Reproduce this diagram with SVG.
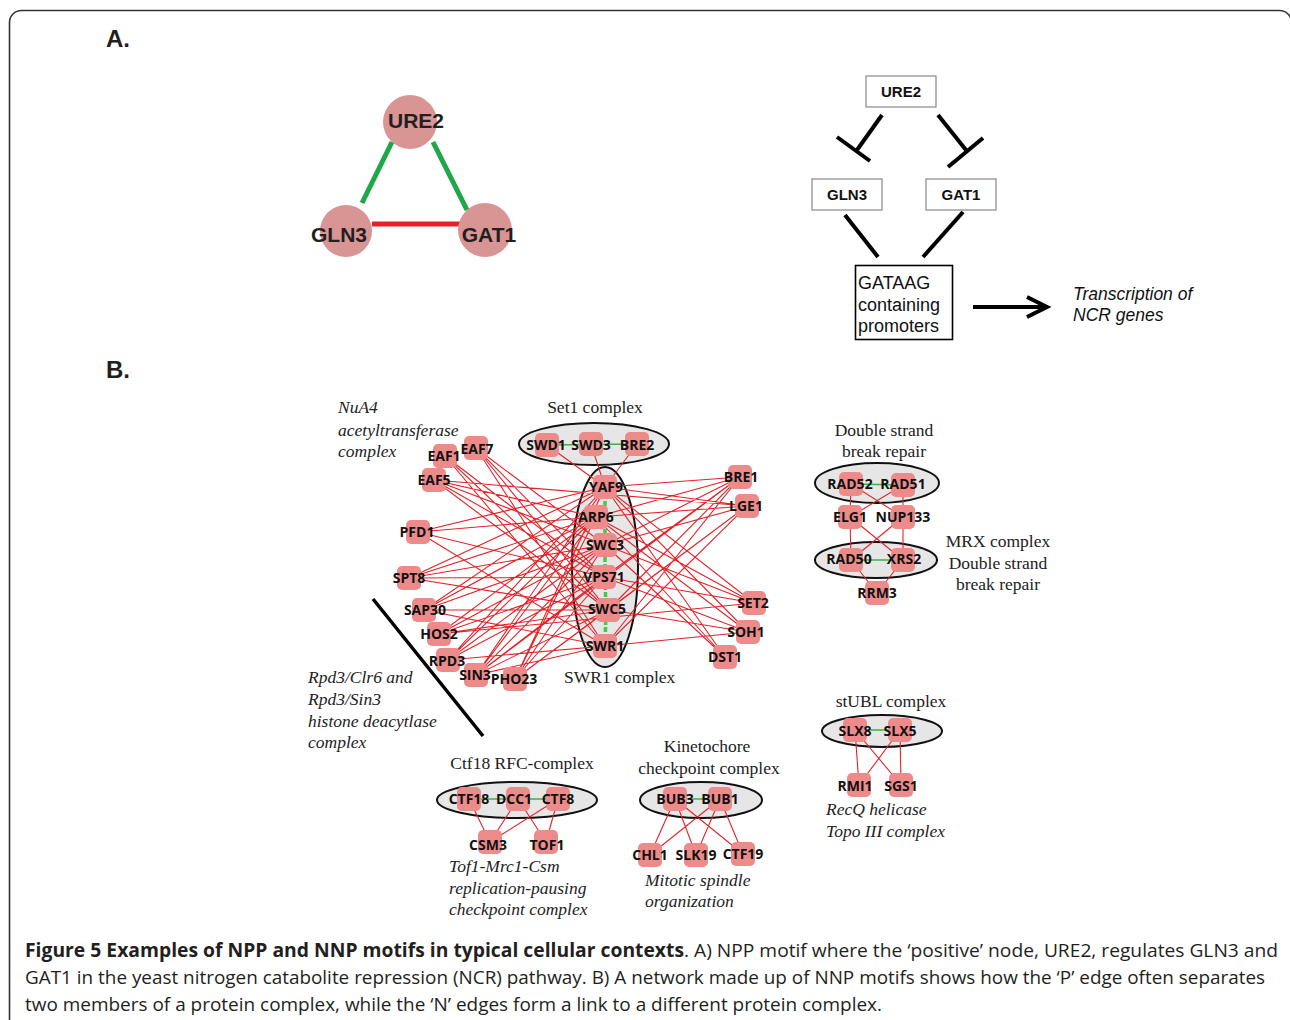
<svg xmlns="http://www.w3.org/2000/svg" width="1290" height="1020" viewBox="0 0 1290 1020">
<style>
.frame{fill:none;stroke:#333;stroke-width:1.6}
.hd{font-family:"Liberation Sans",Arial,sans-serif;font-weight:bold;font-size:24px;fill:#231f20}
.cn{fill:#d99494}
.cl{font-family:"Liberation Sans",Arial,sans-serif;font-weight:bold;font-size:21px;fill:#231f20;text-anchor:middle}
.bx{fill:#fff;stroke:#888;stroke-width:1.2}
.bxt{font-family:"Liberation Sans",Arial,sans-serif;font-weight:bold;font-size:15px;fill:#111;text-anchor:middle}
.pt{font-family:"Liberation Sans",Arial,sans-serif;font-size:18px;fill:#111}
.it{font-family:"Liberation Sans",Arial,sans-serif;font-style:italic;font-size:17.5px;fill:#111}
.blk{stroke:#000;stroke-width:4;fill:none}
.nd{fill:#ed8b8b}
.nl{font-family:"Open Sans","DejaVu Sans",sans-serif;font-weight:bold;font-size:14px;fill:#111;text-anchor:middle}
.cx{fill:#e6e6e6;stroke:#111;stroke-width:2}
.ti{font-family:"Liberation Serif","Times New Roman",serif;font-size:17.5px;fill:#222}
.tii{font-family:"Liberation Serif","Times New Roman",serif;font-style:italic;font-size:17.5px;fill:#222}
.re{stroke:#e3232a;stroke-width:1.1;fill:none}
.ge{stroke:#3cb43c;stroke-width:1.4;fill:none}
.gd{stroke:#45c845;stroke-width:3.5;stroke-dasharray:5 2;fill:none}
.cap{font-family:"Open Sans","Liberation Sans",sans-serif;font-size:19px;fill:#231f20}
</style>
<defs>
<rect id="n" x="-12" y="-12" width="24" height="24" rx="5" class="nd"/>
</defs>
<rect class="frame" x="9.5" y="10.5" width="1282" height="1040" rx="12"/>
<text class="hd" x="106" y="47">A.</text>
<text class="hd" x="106" y="378">B.</text>

<!-- Part A triangle -->
<g id="a-connectors">
<line x1="392" y1="142" x2="362" y2="203" stroke="#1fa84a" stroke-width="5"/>
<line x1="433" y1="142" x2="467" y2="210" stroke="#1fa84a" stroke-width="5"/>
<line x1="372" y1="224" x2="460" y2="224" stroke="#e8202a" stroke-width="5"/>
</g>
<g id="a-URE2"><circle class="cn" cx="410" cy="122" r="27"/><text class="cl" x="416" y="128">URE2</text></g>
<g id="a-GLN3"><circle class="cn" cx="346" cy="231" r="26"/><text class="cl" x="339" y="242">GLN3</text></g>
<g id="a-GAT1"><circle class="cn" cx="485" cy="230" r="27"/><text class="cl" x="489" y="242">GAT1</text></g>

<!-- Part A pathway -->
<g id="p-connectors">
<line class="blk" x1="882" y1="115" x2="857" y2="150"/>
<line class="blk" x1="837" y1="137" x2="870" y2="161"/>
<line class="blk" x1="938" y1="115" x2="966" y2="150"/>
<line class="blk" x1="948" y1="167" x2="983" y2="138"/>
<line class="blk" x1="845" y1="215" x2="878" y2="257"/>
<line class="blk" x1="963" y1="212" x2="923" y2="257"/>
<line class="blk" x1="973" y1="307" x2="1045" y2="307"/>
<polyline class="blk" points="1027,297 1047,307 1027,317"/>
</g>
<g id="p-URE2"><rect class="bx" x="866" y="76" width="70" height="31"/><text class="bxt" x="901" y="97">URE2</text></g>
<g id="p-GLN3"><rect class="bx" x="812" y="179" width="70" height="31"/><text class="bxt" x="847" y="200">GLN3</text></g>
<g id="p-GAT1"><rect class="bx" x="926" y="179" width="70" height="31"/><text class="bxt" x="961" y="200">GAT1</text></g>
<g id="p-promoters"><rect x="855.5" y="265.5" width="97" height="74" fill="#fff" stroke="#000" stroke-width="1.6"/>
<text class="pt" x="858" y="289">GATAAG</text><text class="pt" x="858" y="311">containing</text><text class="pt" x="858" y="332">promoters</text></g>
<g id="p-transcription"><text class="it" x="1073" y="300">Transcription of</text><text class="it" x="1073" y="321">NCR genes</text></g>

<!-- Part B complexes (backgrounds) -->
<ellipse class="cx" cx="594" cy="444" rx="75" ry="21"/>
<ellipse class="cx" cx="605" cy="567" rx="33" ry="100"/>
<ellipse class="cx" cx="877" cy="483" rx="62" ry="20"/>
<ellipse class="cx" cx="876" cy="560" rx="61" ry="18"/>
<ellipse class="cx" cx="517" cy="800" rx="80" ry="18"/>
<ellipse class="cx" cx="701" cy="800" rx="61" ry="18"/>
<ellipse class="cx" cx="882" cy="731" rx="60" ry="16"/>

<g id="connectors">
<path class="re" d="
M445,456L604,577M445,456L608,610M445,456L605,646
M476,448L605,545M476,448L604,577M476,448L608,610M476,448L605,646
M434,480L596,517M434,480L605,545M434,480L604,577M434,480L608,610M434,480L747,506
M418,532L605,487M418,532L596,517M418,532L604,577M418,532L605,646
M409,578L605,487M409,578L596,517M409,578L605,545M409,578L604,577M409,578L608,610M409,578L748,632
M424,610L605,487M424,610L596,517M424,610L605,545M424,610L608,610M424,610L605,646
M439,634L596,517M439,634L605,545M439,634L604,577M439,634L608,610M439,634L754,603
M448,660L605,487M448,660L596,517M448,660L605,545M448,660L604,577M448,660L605,646
M476,675L605,487M476,675L596,517M476,675L605,545M476,675L604,577M476,675L608,610M476,675L605,646M476,675L740,477
M515,679L605,487M515,679L596,517M515,679L605,545M515,679L604,577M515,679L608,610M515,679L747,506
M740,477L605,487M740,477L596,517M740,477L605,545M740,477L604,577M740,477L608,610M740,477L605,646
M747,506L605,487M747,506L596,517M747,506L605,545M747,506L608,610M747,506L605,646
M754,603L605,487M754,603L596,517M754,603L605,545M754,603L604,577
M748,632L605,487M748,632L596,517M748,632L604,577M748,632L605,646
M725,657L605,487M725,657L596,517M725,657L605,545
M547,445L605,487M591,444L605,487M637,444L605,487
M851,484L850,517M903,485L903,517M851,484L903,517M903,485L850,517
M850,517L851,560M903,517L903,560M850,517L903,560M903,517L851,560
M851,560L877,593M903,560L877,593
M469,799L490,842M518,799L490,842M558,799L490,842M518,799L546,842M558,799L546,842
M675,799L650,855M675,799L696,855M675,799L743,854M720,799L650,855M720,799L696,855M720,799L743,854
M855,730L859,785M855,730L901,785M900,730L859,785M900,730L901,785"/>
<path class="ge" d="M547,445L637,444M851,484L903,485M851,560L903,560M469,799L558,799M675,799L720,799M855,730L900,730"/>
<path class="gd" d="M605,487L605,517L605,545L605,577L606,610L605,646"/>
</g>

<g id="nodes">
<g id="EAF1"><use href="#n" x="445" y="456"/><text class="nl" x="444" y="461">EAF1</text></g>
<g id="EAF7"><use href="#n" x="476" y="448"/><text class="nl" x="477" y="454">EAF7</text></g>
<g id="EAF5"><use href="#n" x="434" y="480"/><text class="nl" x="434" y="485">EAF5</text></g>
<g id="PFD1"><use href="#n" x="418" y="532"/><text class="nl" x="417" y="537">PFD1</text></g>
<g id="SPT8"><use href="#n" x="409" y="578"/><text class="nl" x="409" y="583">SPT8</text></g>
<g id="SAP30"><use href="#n" x="424" y="610"/><text class="nl" x="425" y="615">SAP30</text></g>
<g id="HOS2"><use href="#n" x="439" y="634"/><text class="nl" x="439" y="639">HOS2</text></g>
<g id="RPD3"><use href="#n" x="448" y="660"/><text class="nl" x="447" y="666">RPD3</text></g>
<g id="SIN3"><use href="#n" x="476" y="675"/><text class="nl" x="475" y="680">SIN3</text></g>
<g id="PHO23"><use href="#n" x="515" y="679"/><text class="nl" x="514" y="684">PHO23</text></g>
<g id="SWD1"><use href="#n" x="547" y="445"/><text class="nl" x="546" y="450">SWD1</text></g>
<g id="SWD3"><use href="#n" x="591" y="444"/><text class="nl" x="591" y="450">SWD3</text></g>
<g id="BRE2"><use href="#n" x="637" y="444"/><text class="nl" x="637" y="450">BRE2</text></g>
<g id="YAF9"><use href="#n" x="605" y="487"/><text class="nl" x="606" y="492">YAF9</text></g>
<g id="ARP6"><use href="#n" x="596" y="517"/><text class="nl" x="596" y="522">ARP6</text></g>
<g id="SWC3"><use href="#n" x="605" y="545"/><text class="nl" x="605" y="550">SWC3</text></g>
<g id="VPS71"><use href="#n" x="604" y="577"/><text class="nl" x="604" y="582">VPS71</text></g>
<g id="SWC5"><use href="#n" x="608" y="610"/><text class="nl" x="607" y="614">SWC5</text></g>
<g id="SWR1"><use href="#n" x="605" y="646"/><text class="nl" x="605" y="651">SWR1</text></g>
<g id="BRE1"><use href="#n" x="740" y="477"/><text class="nl" x="741" y="482">BRE1</text></g>
<g id="LGE1"><use href="#n" x="747" y="506"/><text class="nl" x="746" y="511">LGE1</text></g>
<g id="SET2"><use href="#n" x="754" y="603"/><text class="nl" x="753" y="608">SET2</text></g>
<g id="SOH1"><use href="#n" x="748" y="632"/><text class="nl" x="746" y="637">SOH1</text></g>
<g id="DST1"><use href="#n" x="725" y="657"/><text class="nl" x="725" y="662">DST1</text></g>
<g id="RAD52"><use href="#n" x="851" y="484"/><text class="nl" x="850" y="489">RAD52</text></g>
<g id="RAD51"><use href="#n" x="903" y="485"/><text class="nl" x="903" y="489">RAD51</text></g>
<g id="ELG1"><use href="#n" x="850" y="517"/><text class="nl" x="850" y="522">ELG1</text></g>
<g id="NUP133"><use href="#n" x="903" y="517"/><text class="nl" x="903" y="522">NUP133</text></g>
<g id="RAD50"><use href="#n" x="851" y="560"/><text class="nl" x="849" y="564">RAD50</text></g>
<g id="XRS2"><use href="#n" x="903" y="560"/><text class="nl" x="904" y="564">XRS2</text></g>
<g id="RRM3"><use href="#n" x="877" y="593"/><text class="nl" x="877" y="598">RRM3</text></g>
<g id="CTF18"><use href="#n" x="469" y="799"/><text class="nl" x="469" y="804">CTF18</text></g>
<g id="DCC1"><use href="#n" x="518" y="799"/><text class="nl" x="514" y="804">DCC1</text></g>
<g id="CTF8"><use href="#n" x="558" y="799"/><text class="nl" x="558" y="804">CTF8</text></g>
<g id="CSM3"><use href="#n" x="490" y="842"/><text class="nl" x="488" y="850">CSM3</text></g>
<g id="TOF1"><use href="#n" x="546" y="842"/><text class="nl" x="547" y="850">TOF1</text></g>
<g id="BUB3"><use href="#n" x="675" y="799"/><text class="nl" x="675" y="804">BUB3</text></g>
<g id="BUB1"><use href="#n" x="720" y="799"/><text class="nl" x="720" y="804">BUB1</text></g>
<g id="CHL1"><use href="#n" x="650" y="855"/><text class="nl" x="650" y="860">CHL1</text></g>
<g id="SLK19"><use href="#n" x="696" y="855"/><text class="nl" x="696" y="860">SLK19</text></g>
<g id="CTF19"><use href="#n" x="743" y="854"/><text class="nl" x="743" y="859">CTF19</text></g>
<g id="SLX8"><use href="#n" x="855" y="730"/><text class="nl" x="855" y="736">SLX8</text></g>
<g id="SLX5"><use href="#n" x="900" y="730"/><text class="nl" x="900" y="736">SLX5</text></g>
<g id="RMI1"><use href="#n" x="859" y="785"/><text class="nl" x="855" y="791">RMI1</text></g>
<g id="SGS1"><use href="#n" x="901" y="785"/><text class="nl" x="901" y="791">SGS1</text></g>
</g>

<line x1="373" y1="599" x2="483" y2="736" stroke="#000" stroke-width="3.5"/>

<g id="labels">
<text class="tii" x="338" y="413">NuA4</text>
<text class="tii" x="338" y="436">acetyltransferase</text>
<text class="tii" x="338" y="457">complex</text>
<text class="ti" x="595" y="413" text-anchor="middle">Set1 complex</text>
<text class="ti" x="564" y="683">SWR1 complex</text>
<text class="tii" x="308" y="683">Rpd3/Clr6 and</text>
<text class="tii" x="308" y="705">Rpd3/Sin3</text>
<text class="tii" x="308" y="727">histone deacytlase</text>
<text class="tii" x="308" y="748">complex</text>
<text class="ti" x="884" y="436" text-anchor="middle">Double strand</text>
<text class="ti" x="884" y="457" text-anchor="middle">break repair</text>
<text class="ti" x="998" y="547" text-anchor="middle">MRX complex</text>
<text class="ti" x="998" y="569" text-anchor="middle">Double strand</text>
<text class="ti" x="998" y="590" text-anchor="middle">break repair</text>
<text class="ti" x="891" y="707" text-anchor="middle">stUBL complex</text>
<text class="tii" x="826" y="815">RecQ helicase</text>
<text class="tii" x="826" y="837">Topo III complex</text>
<text class="ti" x="522" y="769" text-anchor="middle">Ctf18 RFC-complex</text>
<text class="tii" x="449" y="872">Tof1-Mrc1-Csm</text>
<text class="tii" x="449" y="894">replication-pausing</text>
<text class="tii" x="449" y="915">checkpoint complex</text>
<text class="ti" x="707" y="752" text-anchor="middle">Kinetochore</text>
<text class="ti" x="709" y="774" text-anchor="middle">checkpoint complex</text>
<text class="tii" x="645" y="886">Mitotic spindle</text>
<text class="tii" x="645" y="907">organization</text>
</g>

<g id="caption">
<text class="cap" x="25" y="957" font-weight="bold" textLength="659" lengthAdjust="spacingAndGlyphs">Figure 5 Examples of NPP and NNP motifs in typical cellular contexts</text>
<text class="cap" x="684" y="957" textLength="594" lengthAdjust="spacingAndGlyphs">. A) NPP motif where the ‘positive’ node, URE2, regulates GLN3 and</text>
<text class="cap" x="25" y="984" textLength="1240" lengthAdjust="spacingAndGlyphs">GAT1 in the yeast nitrogen catabolite repression (NCR) pathway. B) A network made up of NNP motifs shows how the ‘P’ edge often separates</text>
<text class="cap" x="25" y="1011" textLength="857" lengthAdjust="spacingAndGlyphs">two members of a protein complex, while the ‘N’ edges form a link to a different protein complex.</text>
</g>
</svg>
